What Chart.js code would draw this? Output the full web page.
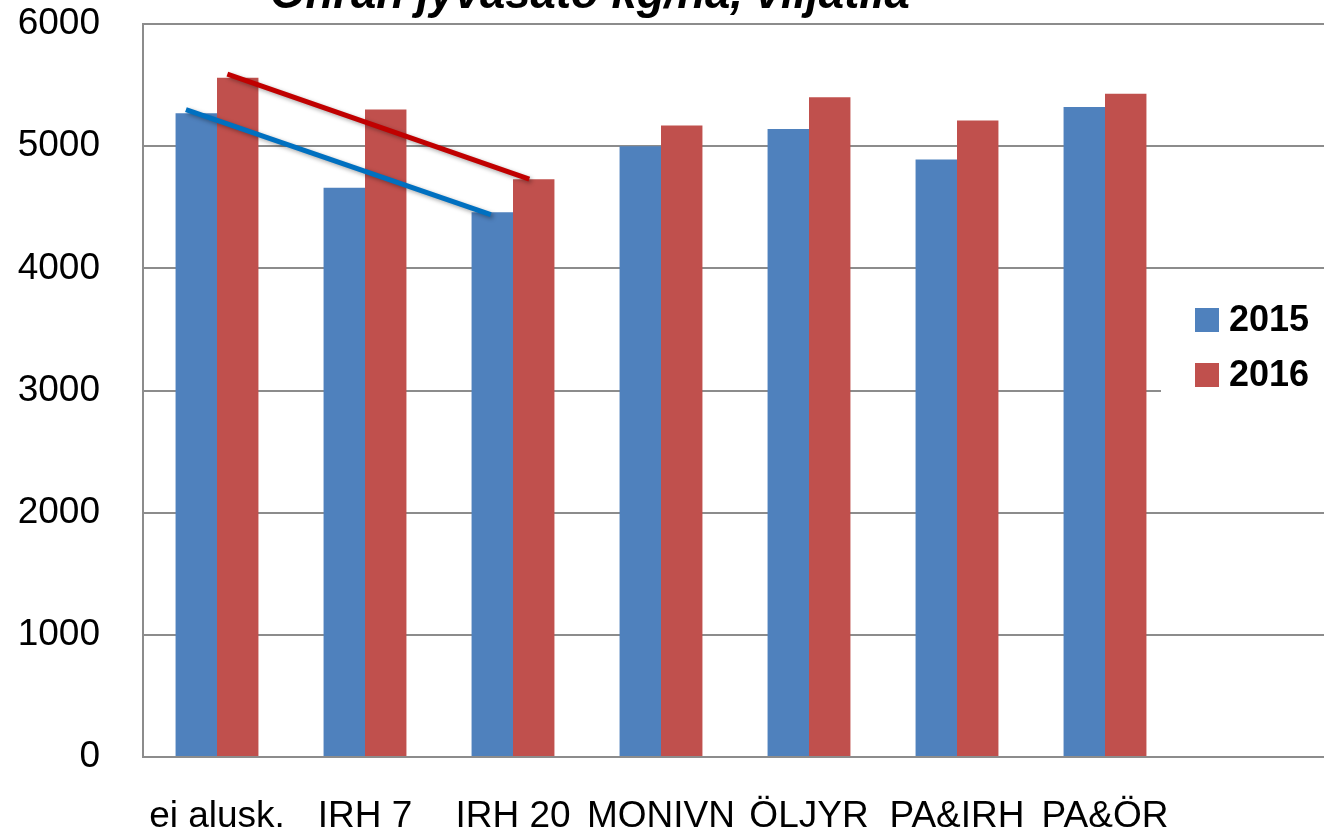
<!DOCTYPE html>
<html>
<head>
<meta charset="utf-8">
<script src="https://cdn.jsdelivr.net/npm/chart.js@4.4.1/dist/chart.umd.min.js"></script>
<style>
  html, body { margin:0; padding:0; background:#fff; overflow:hidden; }
  #wrap { width:1324px; height:829px; overflow:hidden; }
</style>
</head>
<body>
<div id="wrap"><canvas id="chart" width="1327" height="829"></canvas></div>
<script>
// data
const categories = ['ei alusk.', 'IRH 7', 'IRH 20', 'MONIVN', 'ÖLJYR', 'PA&IRH', 'PA&ÖR', ''];
const yield2015  = [5270, 4660, 4460, 5000, 5140, 4890, 5320, null];
const yield2016  = [5560, 5300, 4730, 5170, 5400, 5210, 5430, null];
const yTicks     = [0, 1000, 2000, 3000, 4000, 5000, 6000];
// hand-drawn trend lines (category index, value)
const trend2015X = [-0.21, 1.85];
const trend2015Y = [5300, 4440];
const trend2016X = [0.07, 2.11];
const trend2016Y = [5590, 4730];
const title = 'Ohran jyväsato kg/ha, viljatila';

const FONT = '"Liberation Sans", Arial, sans-serif';

// trend lines, placed through the chart's own x (category index) and y scales
const trends = [
  { xs: trend2015X, ys: trend2015Y, color: '#0070C0' },
  { xs: trend2016X, ys: trend2016Y, color: '#C00000' },
];
const trendPlugin = {
  id: 'trendLines',
  afterDatasetsDraw(chart) {
    const { ctx, scales: { x, y } } = chart;
    ctx.save();
    ctx.shadowColor = 'rgba(0,0,0,0.35)';
    ctx.shadowBlur = 4;
    ctx.shadowOffsetX = 2;
    ctx.shadowOffsetY = 2;
    ctx.lineWidth = 5;
    trends.forEach(t => {
      ctx.strokeStyle = t.color;
      ctx.beginPath();
      t.xs.forEach((v, i) => {
        const px = x.getPixelForValue(v), py = y.getPixelForValue(t.ys[i]);
        i ? ctx.lineTo(px, py) : ctx.moveTo(px, py);
      });
      ctx.stroke();
    });
    ctx.restore();
  }
};

// title, mostly cut off by the top edge
const titlePlugin = {
  id: 'cutTitle',
  afterDraw(chart) {
    const ctx = chart.ctx;
    ctx.save();
    ctx.font = 'italic bold 36px ' + FONT;
    const w = ctx.measureText(title).width;
    const size = 36 * 640 / w;
    ctx.font = 'italic bold ' + size.toFixed(1) + 'px ' + FONT;
    ctx.fillStyle = '#000';
    ctx.textAlign = 'center';
    ctx.textBaseline = 'alphabetic';
    ctx.fillText(title, 590, 8);
    ctx.restore();
  }
};

// legend box on the right, over the grid
const legendPlugin = {
  id: 'sideLegend',
  afterDraw(chart) {
    const ctx = chart.ctx;
    ctx.save();
    ctx.fillStyle = '#fff';
    ctx.fillRect(1161, 285, 170, 112);
    chart.data.datasets.forEach((d, i) => {
      const y = 308 + i * 55;
      ctx.fillStyle = d.backgroundColor;
      ctx.fillRect(1195, y, 24, 24);
      ctx.fillStyle = '#000';
      ctx.font = 'bold 36px ' + FONT;
      ctx.textBaseline = 'middle';
      ctx.fillText(d.label, 1229, y + 13);
    });
    ctx.restore();
  }
};

new Chart(document.getElementById('chart').getContext('2d'), {
  type: 'bar',
  data: {
    labels: categories,
    datasets: [
      { label:'2015', data: yield2015, backgroundColor:'#4F81BD' },
      { label:'2016', data: yield2016, backgroundColor:'#C0504D' },
    ],
  },
  options: {
    responsive:false, animation:false,
    categoryPercentage:0.56, barPercentage:1,
    layout:{ padding:{ top:24, right:0, left:0, bottom:0 } },
    plugins:{ legend:{ display:false }, tooltip:{ enabled:false }, title:{ display:false } },
    scales:{
      x:{
        grid:{ display:false },
        border:{ display:true, color:'#8c8c8c', width:2 },
        ticks:{ color:'#000', font:{ family:FONT, size:37 }, padding:30, maxRotation:0, autoSkip:false },
        afterFit(s){ s.height = 72; s.paddingLeft = 0; s.paddingRight = 0; },
      },
      y:{
        min:0, max:6000,
        afterBuildTicks(s){ s.ticks = yTicks.map(v => ({ value:v })); },
        grid:{ color:'#8c8c8c', lineWidth:2, drawTicks:false },
        border:{ display:true, color:'#8c8c8c', width:2 },
        ticks:{ color:'#000', font:{ family:FONT, size:37 }, padding:43, callback: v => String(v) },
        afterFit(s){ s.width = 143; s.paddingTop = 0; s.paddingBottom = 0; },
      },
    },
  },
  plugins:[trendPlugin, titlePlugin, legendPlugin],
});
</script>
</body>
</html>
